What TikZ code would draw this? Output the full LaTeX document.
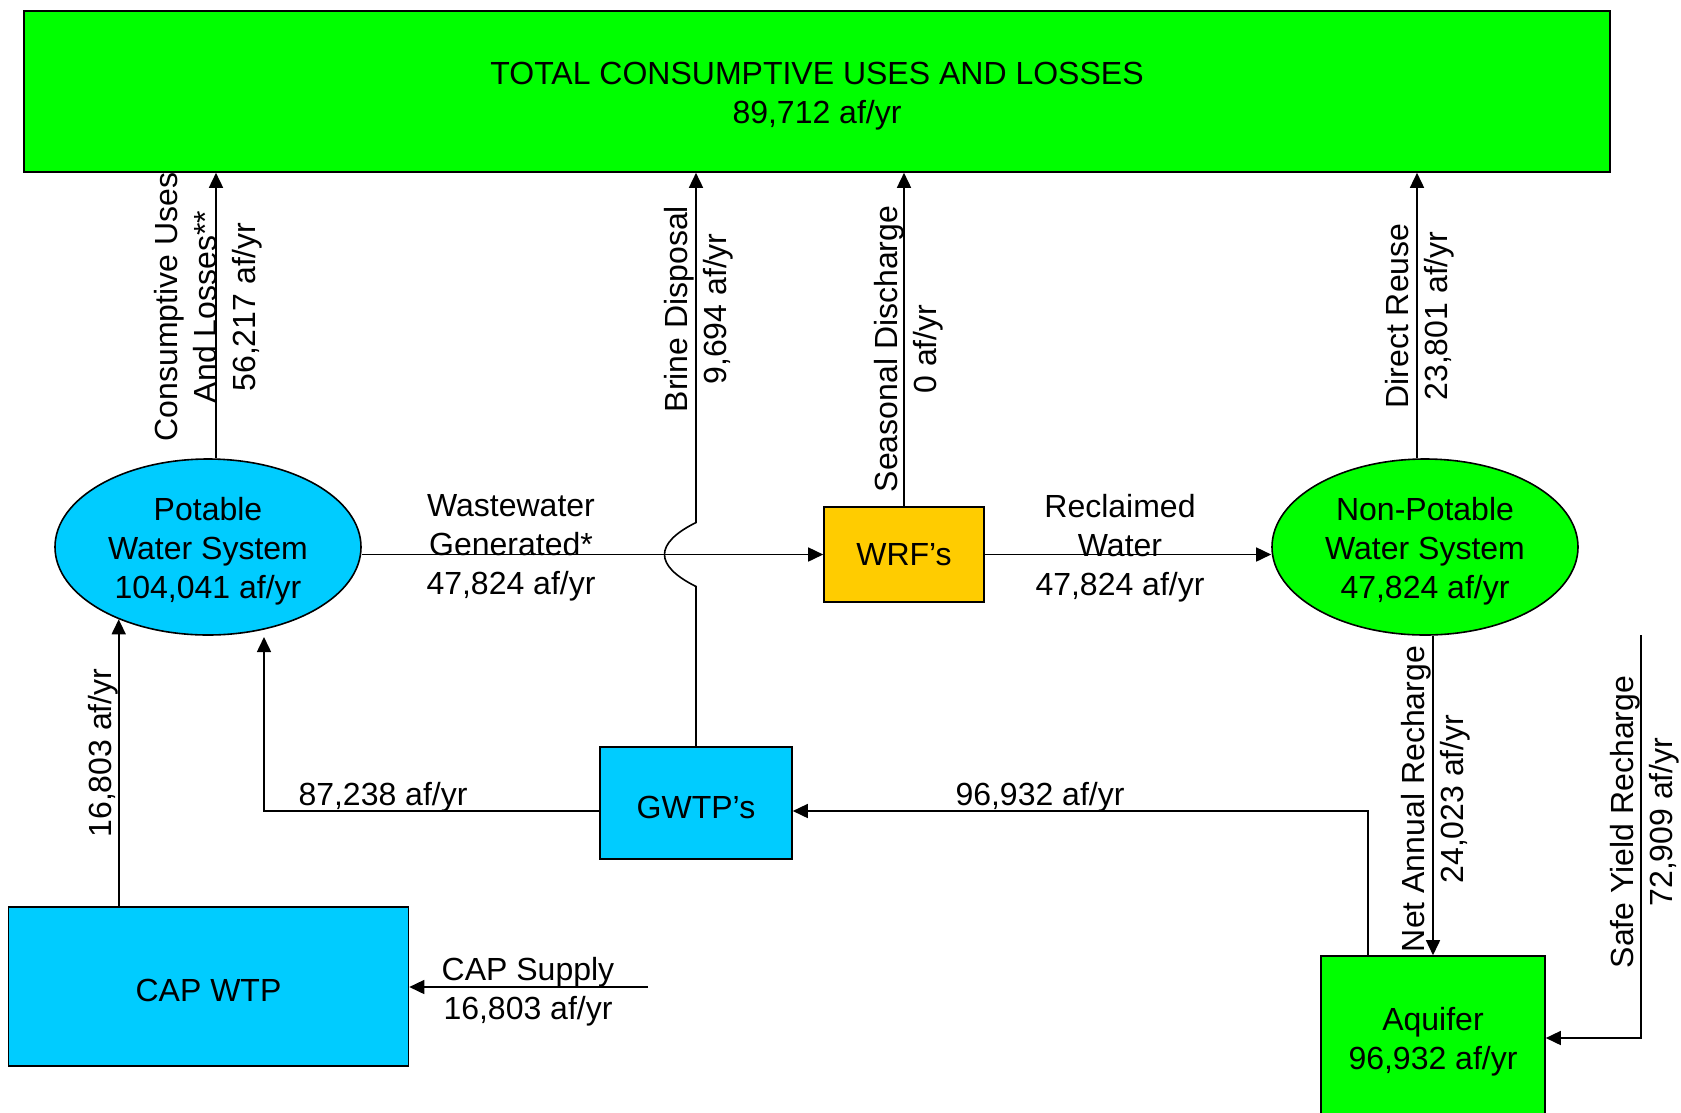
\documentclass[tikz,border=0pt]{standalone}
\usepackage{fontspec}
\setmainfont{Liberation Sans}
\usetikzlibrary{shapes.geometric,arrows.meta}
\usepackage{xcolor}
\definecolor{cswater}{HTML}{00CCFF}
\definecolor{csgreen}{HTML}{00FF00}
\definecolor{csamber}{HTML}{FFCC00}
\newcommand{\capstrut}{\rule{0pt}{31pt}}

\begin{document}
\begin{tikzpicture}[x=1pt,y=-1pt,
        every node/.style={font=\fontsize{32}{39}\selectfont,align=center,inner sep=0pt},
        box/.style={rectangle,draw,line width=1.6pt},
        pool/.style={ellipse,draw,line width=1.6pt,minimum width=306pt,minimum height=176pt},
        flow/.style={line width=1.6pt,-{Triangle[length=15pt,width=14pt]}},
        vlabel/.style={rotate=90}]
        \useasboundingbox (0,0) rectangle (1681,1112);
        \clip (0,0) rectangle (1681,1112);
        \node[box,fill=csgreen,minimum width=1586pt,minimum height=161pt] (total) at (817,91.5) {\capstrut TOTAL CONSUMPTIVE USES AND LOSSES\\89,712 af/yr};
        \node[pool,fill=cswater] (pws) at (208,547) {\capstrut Potable\\Water System\\104,041 af/yr};
        \node[pool,fill=csgreen] (npws) at (1425,547) {\capstrut Non-Potable\\Water System\\47,824 af/yr};
        \node[box,fill=csamber,minimum width=160pt,minimum height=95pt] (wrf) at (904,554.5) {WRF’s};
        \node[box,fill=cswater,minimum width=192pt,minimum height=112pt] (gwtp) at (696,803) {\capstrut GWTP’s};
        \node[box,fill=cswater,minimum width=400pt,minimum height=159pt] (capwtp) at (208.5,986.5) {\capstrut CAP WTP};
        \node[box,fill=csgreen,minimum width=224pt,minimum height=164pt] (aquifer) at (1433,1038) {\capstrut Aquifer\\96,932 af/yr};
        \coordinate (hop) at (gwtp.north |- wrf.west);
        \coordinate (pwsin) at ([shift={(56pt,-90pt)}]pws.center);
        \coordinate (capsrc) at (648,987);
        \coordinate (safesrc) at (1641,635);
        \draw[flow] ([xshift=8pt]pws.north) -- ([xshift=8pt]pws.north |- total.south);
        \draw[flow] (gwtp.north) -- ([yshift=-32pt]hop) .. controls ([shift={(-42pt,-11pt)}]hop) and ([shift={(-42pt,11pt)}]hop) .. ([yshift=32pt]hop) -- (hop |- total.south);
        \draw[flow] (wrf.north) -- (wrf.north |- total.south);
        \draw[flow] ([xshift=-8pt]npws.north) -- ([xshift=-8pt]npws.north |- total.south);
        \draw[flow] (pws.east |- wrf.west) -- (wrf.west);
        \draw[flow] (wrf.east) -- (npws.west |- wrf.east);
        \draw[flow] (aquifer.north |- npws.south) -- (aquifer.north);
        \draw[flow] ([xshift=-65pt]aquifer.north) |- ([yshift=-8pt]gwtp.east);
        \draw[flow] ([yshift=-8pt]gwtp.west) -| (pwsin);
        \draw[flow] (capwtp.north -| pws.219) -- (pws.219);
        \draw[flow] (capsrc) -- (capsrc -| capwtp.east);
        \draw[flow] (safesrc) |- (aquifer.east);
        \node[vlabel] (consumlbl) at (208,307) {Consumptive Uses\\And Losses**\\56,217 af/yr};
        \node[vlabel] (brinelbl) at (699,309) {Brine Disposal\\9,694 af/yr};
        \node[vlabel] (seasonlbl) at (909,349) {Seasonal Discharge\\0 af/yr};
        \node[vlabel] (reuselbl) at (1420,316) {Direct Reuse\\23,801 af/yr};
        \node[vlabel] (netlbl) at (1436,799) {Net Annual Recharge\\24,023 af/yr};
        \node[vlabel] (safelbl) at (1645,822) {Safe Yield Recharge\\72,909 af/yr};
        \node[vlabel] (caplbl) at (103,753) {16,803 af/yr};
        \node (wastelbl) at (511,548) {Wastewater\\Generated*\\47,824 af/yr};
        \node (reclaimlbl) at (1120,548) {Reclaimed\\Water\\47,824 af/yr};
        \node (gwtplbl) at (383,797) {87,238 af/yr};
        \node (aquilbl) at (1040,797) {96,932 af/yr};
        \node (supplylbl) at (528,992) {CAP Supply\\16,803 af/yr};
    \end{tikzpicture}
\end{document}
